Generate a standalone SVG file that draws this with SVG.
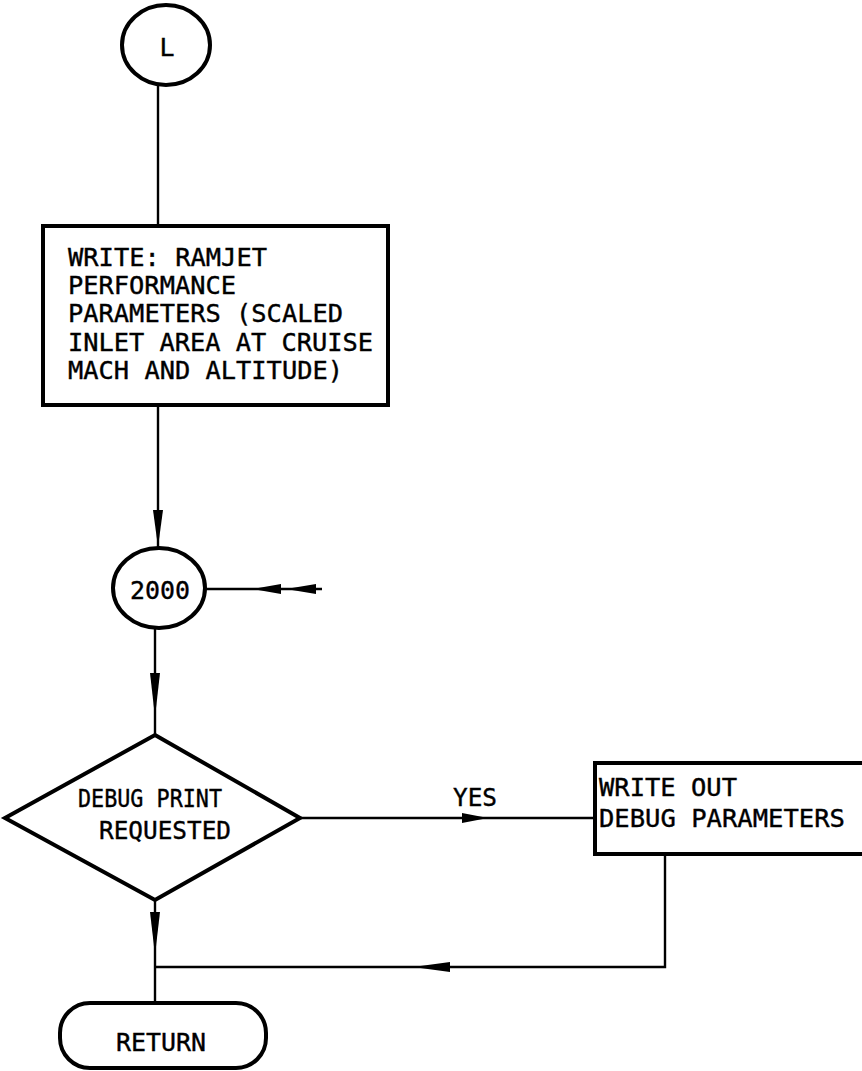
<svg xmlns="http://www.w3.org/2000/svg" width="862" height="1071" viewBox="0 0 862 1071">
<style>
.shape{fill:#fff;stroke:#000;stroke-width:4}
.ln{fill:none;stroke:#000;stroke-width:2.4}
.ah{fill:#000;stroke:none}
text{font-family:"DejaVu Sans Mono","Liberation Mono",monospace;font-size:25px;fill:#000;stroke:#000;stroke-width:0.4}
</style>
<rect width="862" height="1071" fill="#fff"/>
<g id="connectors">
<polyline class="ln" points="158,85 158,228"/>
<polyline class="ln" points="158,405 158,548"/>
<polyline class="ln" points="205,589 322,589"/>
<polyline class="ln" points="155,628 155,735"/>
<polyline class="ln" points="300,818 595,818"/>
<polyline class="ln" points="665,854 665,967 155,967"/>
<polyline class="ln" points="155,900 155,1003"/>
<polygon class="ah" points="158,547 153,510 163,510"/>
<polygon class="ah" points="253,589 281,584 281,594"/>
<polygon class="ah" points="286,589 316,584 316,594"/>
<polygon class="ah" points="155,717 150,673 160,673"/>
<polygon class="ah" points="488,818 462,813 462,823"/>
<polygon class="ah" points="413,967 450,962 450,972"/>
<polygon class="ah" points="155,955 150,912 160,912"/>
</g>
<g id="node-L">
<ellipse class="shape" cx="166" cy="45" rx="44" ry="40"/>
<text x="167" y="56" text-anchor="middle">L</text>
</g>
<g id="node-write-ramjet">
<rect class="shape" x="43" y="226" width="345" height="179"/>
<text x="68" y="266" textLength="199" lengthAdjust="spacingAndGlyphs">WRITE: RAMJET</text>
<text x="68" y="294" textLength="168" lengthAdjust="spacingAndGlyphs">PERFORMANCE</text>
<text x="68" y="322" textLength="275" lengthAdjust="spacingAndGlyphs">PARAMETERS (SCALED</text>
<text x="68" y="351" textLength="305" lengthAdjust="spacingAndGlyphs">INLET AREA AT CRUISE</text>
<text x="68" y="379" textLength="275" lengthAdjust="spacingAndGlyphs">MACH AND ALTITUDE)</text>
</g>
<g id="node-2000">
<ellipse class="shape" cx="159" cy="588" rx="46" ry="40"/>
<text x="160" y="599" text-anchor="middle" textLength="60" lengthAdjust="spacingAndGlyphs">2000</text>
</g>
<g id="node-debug-decision">
<polygon class="shape" points="155,735 300,818 155,900 5,818"/>
<text x="150" y="807" text-anchor="middle" textLength="144" lengthAdjust="spacingAndGlyphs">DEBUG PRINT</text>
<text x="165" y="839" text-anchor="middle" textLength="132" lengthAdjust="spacingAndGlyphs">REQUESTED</text>
</g>
<g id="label-yes">
<text x="475" y="806" text-anchor="middle" textLength="44" lengthAdjust="spacingAndGlyphs">YES</text>
</g>
<g id="node-write-debug">
<rect class="shape" x="595" y="763" width="275" height="91"/>
<text x="599" y="796" textLength="138" lengthAdjust="spacingAndGlyphs">WRITE OUT</text>
<text x="599" y="827" textLength="246" lengthAdjust="spacingAndGlyphs">DEBUG PARAMETERS</text>
</g>
<g id="node-return">
<rect class="shape" x="60" y="1003" width="206" height="65" rx="30" ry="30"/>
<text x="161" y="1051" text-anchor="middle" textLength="90" lengthAdjust="spacingAndGlyphs">RETURN</text>
</g>
</svg>
